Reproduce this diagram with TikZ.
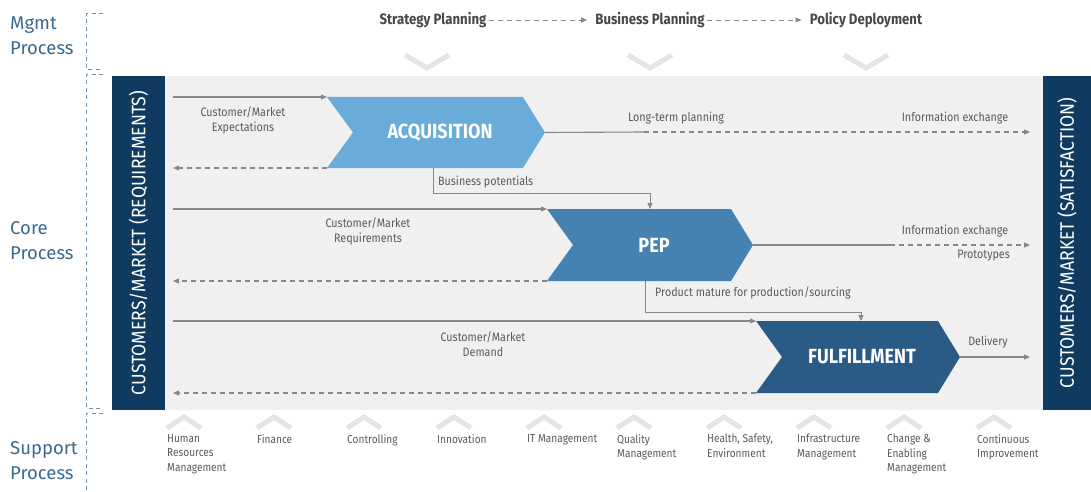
\documentclass[tikz,border=0pt]{standalone}
\usepackage{fontspec}
\setmainfont{Fira Sans}
\newfontfamily\narrowsf{Fira Sans}[FakeStretch=0.88]
\newfontfamily\barsf{Fira Sans}[FakeStretch=0.9]
\usetikzlibrary{arrows.meta}

\definecolor{navy}{HTML}{0F3B61}
\definecolor{acqblue}{HTML}{6AACD9}
\definecolor{pepblue}{HTML}{4582B1}
\definecolor{fulblue}{HTML}{2A5B86}
\definecolor{bggray}{HTML}{F0F0F0}
\definecolor{decogray}{HTML}{E4E4E4}
\definecolor{arrowgray}{HTML}{888888}
\definecolor{labelgray}{HTML}{5A5A5A}
\definecolor{titlegray}{HTML}{474747}
\definecolor{sectblue}{HTML}{3B6890}
\definecolor{bracketblue}{HTML}{7390AC}

% process chevron: name, left x, top y, tip x, bottom y, colour, label
\newcommand\procchev[7]{%
  \fill[#6] (#2,#3) -- ({#4-22},#3) -- (#4,{(#3+#5)/2}) -- ({#4-22},#5)
    -- (#2,#5) -- ({#2+26},{(#3+#5)/2}) -- cycle;
  \coordinate (#1-tl) at (#2,#3);
  \coordinate (#1-bl) at (#2,#5);
  \coordinate (#1-tip) at (#4,{(#3+#5)/2});
  \node[chevtext] (#1) at ({(#2+#4)/2+4},{(#3+#5)/2}) {#7};
}

\begin{document}
\begin{tikzpicture}[x=1pt,y=-1pt,
  flow/.style={draw=arrowgray, line width=1.1pt},
  thinflow/.style={draw=arrowgray, line width=0.9pt},
  tip/.style={-{Triangle[length=6pt,width=5pt]}},
  dashline/.style={dash pattern=on 5pt off 4pt},
  lbl/.style={text=labelgray, font=\narrowsf\fontsize{12.2}{15}\selectfont, inner sep=0pt, align=center},
  suplbl/.style={text=labelgray, font=\narrowsf\fontsize{11.5}{14.5}\selectfont, inner sep=0pt, align=left, anchor=north west},
  chevtext/.style={text=white, font=\narrowsf\bfseries\fontsize{20.5}{22}\selectfont},
  sidebar/.style={fill=navy, text=white, rotate=90, inner sep=0pt, font=\barsf\fontsize{19.5}{22}\selectfont},
  sectlabel/.style={text=sectblue, font=\fontsize{18.5}{25}\selectfont, align=left, anchor=west, inner sep=0pt},
  toptitle/.style={text=titlegray, font=\narrowsf\bfseries\fontsize{15}{17}\selectfont, inner sep=0pt},
  bracket/.style={draw=bracketblue, line width=1pt, dash pattern=on 4pt off 3.5pt},
  deco/.style={draw=decogray, line width=5pt},
]
\useasboundingbox (0,0) rectangle (1091,492);

% section labels and dashed brackets
\node[sectlabel] (mgmt) at (10,36) {Mgmt\\Process};
\node[sectlabel] (core) at (10,241) {Core\\Process};
\node[sectlabel] (supp) at (10,461) {Support\\Process};
\draw[bracket] (103,14) -- (86,14) -- (86,70) -- (103,70);
\draw[bracket] (103,75) -- (86,75) -- (86,408) -- (103,408);
\draw[bracket] (103,413) -- (86,413) -- (86,492);

% core area and customer bars
\fill[bggray] (165,76) rectangle (1043,410);
\node[sidebar, minimum width=334pt, minimum height=53pt] (reqbar) at (138.5,243) {CUSTOMERS/MARKET (REQUIREMENTS)};
\node[sidebar, minimum width=334pt, minimum height=48pt] (satbar) at (1067,243) {CUSTOMERS/MARKET (SATISFACTION)};

% management process line
\node[toptitle] (sp) at (433,20) {Strategy Planning};
\node[toptitle] (bp) at (650,20) {Business Planning};
\node[toptitle] (pd) at (866,20) {Policy Deployment};
\draw[thinflow, dashline, tip, shorten <=2pt, shorten >=8pt] (sp) -- (bp);
\draw[thinflow, dashline, tip, shorten <=2pt, shorten >=8pt] (bp) -- (pd);
\foreach \cx in {427,650,866}
  \draw[deco] (\cx-22,55) -- (\cx,68) -- (\cx+22,55);

% process chevrons
\procchev{acq}{327}{97}{545}{168}{acqblue}{ACQUISITION}
\procchev{pep}{547}{209}{753}{281}{pepblue}{PEP}
\procchev{ful}{756}{321}{960}{393}{fulblue}{FULFILLMENT}

% acquisition row
\coordinate (in1) at (173,97);
\coordinate (back1) at (173,168);
\coordinate (mid1) at (644,132);
\coordinate (out1) at (1030,132);
\draw[flow, tip] (in1) -- (acq-tl);
\draw[flow, dashline, tip] (acq-bl) -- (back1);
\draw[flow] (acq-tip) -- (mid1);
\draw[flow, dashline, tip] (mid1) -- (out1);
\node[lbl] (l1) at (243,120) {Customer/Market\\Expectations};
\node[lbl] (l2) at (676,118) {Long-term planning};
\node[lbl] (l3) at (955,118) {Information exchange};

% business potentials link
\coordinate (acq-bp) at (433,168);
\coordinate (pep-bp) at (650,209);
\draw[thinflow, tip] (acq-bp) -- ++(0,25) -| (pep-bp);
\node[lbl, anchor=west] (l4) at (438,182) {Business potentials};

% PEP row
\coordinate (in2) at (173,209);
\coordinate (back2) at (173,281);
\coordinate (mid2) at (890,245);
\coordinate (out2) at (1030,245);
\draw[flow, tip] (in2) -- (pep-tl);
\draw[flow, dashline, tip] (pep-bl) -- (back2);
\draw[flow] (pep-tip) -- (mid2);
\draw[flow, dashline, tip] (mid2) -- (out2);
\node[lbl] (l5) at (368,231) {Customer/Market\\Requirements};
\node[lbl] (l6) at (955,231) {Information exchange};
\node[lbl, anchor=east] (l7) at (1010,256) {Prototypes};

% product maturity link
\coordinate (pep-pm) at (645,281);
\coordinate (ful-pm) at (861,321);
\draw[thinflow, tip] (pep-pm) -- ++(0,31) -| (ful-pm);
\node[lbl, anchor=west] (l8) at (655,293) {Product mature for production/sourcing};

% fulfillment row
\coordinate (in3) at (173,321);
\coordinate (back3) at (173,393);
\coordinate (out3) at (1030,357);
\draw[flow, tip] (in3) -- (ful-tl);
\draw[flow, dashline, tip] (ful-bl) -- (back3);
\draw[flow, tip] (ful-tip) -- (out3);
\node[lbl] (l9) at (483,344) {Customer/Market\\Demand};
\node[lbl] (l10) at (988,342) {Delivery};

% support processes
\foreach \i/\txt in {0/{Human\\Resources\\Management}, 1/{Finance}, 2/{Controlling},
    3/{Innovation}, 4/{IT Management}, 5/{Quality\\Management},
    6/{Health, Safety,\\Environment}, 7/{Infrastructure\\Management},
    8/{Change \&\\Enabling\\Management}, 9/{Continuous\\Improvement}} {
  \draw[deco] (167+90*\i,428) -- (184+90*\i,417) -- (201+90*\i,428);
  \node[suplbl] (sup\i) at (167+90*\i,434) {\txt};
}
\end{tikzpicture}
\end{document}
